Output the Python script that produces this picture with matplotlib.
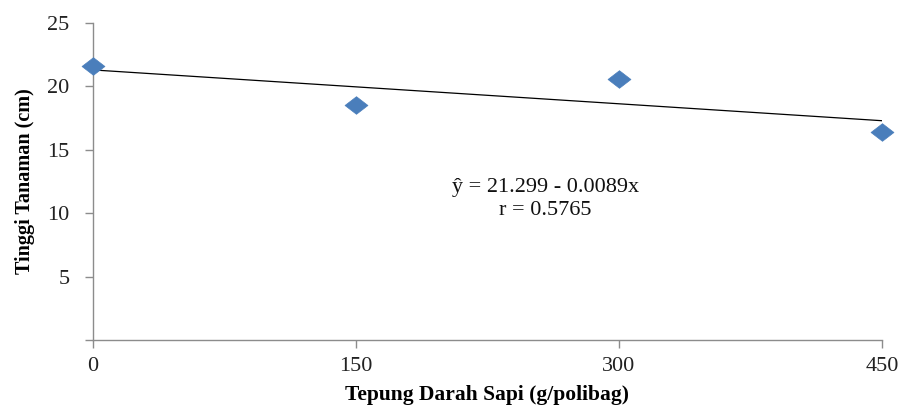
import matplotlib
matplotlib.use("Agg")
import matplotlib.pyplot as plt
import numpy as np
from matplotlib.path import Path

# Data
doses = [0, 150, 300, 450]
heights = [21.63, 18.56, 20.6, 16.4]
intercept = 21.299
slope = -0.0089
xticks = [0, 150, 300, 450]
yticks = [5, 10, 15, 20, 25]

plt.rcParams['font.family'] = ['Liberation Serif', 'DejaVu Serif']

fig = plt.figure(figsize=(9.06, 4.07), dpi=100)
ax = fig.add_axes([0.1026, 0.1646, 0.8709, 0.7789])

wide_diamond = Path([(-1.3, 0), (0, 1), (1.3, 0), (0, -1), (-1.3, 0)],
                    [Path.MOVETO, Path.LINETO, Path.LINETO, Path.LINETO, Path.CLOSEPOLY])

xs = np.array([min(doses), max(doses)])
ax.plot(xs, intercept + slope * xs, color='black', lw=0.9, zorder=2)
ax.plot(doses, heights, linestyle='none', marker=wide_diamond, markersize=16.5,
        color='#4A7EBB', markeredgecolor='#4A7EBB', markeredgewidth=0.5,
        zorder=3, clip_on=False)

ax.set_xlim(0, 450)
ax.set_ylim(0, 25)
ax.set_xticks(xticks)
ax.set_xticklabels([str(v) for v in xticks])
ax.set_yticks([0] + yticks)
ax.set_yticklabels([''] + [str(v) for v in yticks])

for s in ['top', 'right']:
    ax.spines[s].set_visible(False)
for s in ['left', 'bottom']:
    ax.spines[s].set_color('#8c8c8c')
    ax.spines[s].set_linewidth(1.0)
ax.tick_params(axis='both', colors='#8c8c8c', labelcolor='#222222',
               labelsize=16, length=6, width=1.0, direction='out')
ax.tick_params(axis='x', pad=6)
ax.tick_params(axis='y', pad=11)

ax.set_xlabel('Tepung Darah Sapi (g/polibag)', fontsize=15.5, fontweight='bold', labelpad=7)
ax.set_ylabel('Tinggi Tanaman (cm)', fontsize=14.5, fontweight='bold', labelpad=9)

ax.text(0.573, 0.445, 'ŷ = 21.299 - 0.0089x\nr = 0.5765', transform=ax.transAxes,
        ha='center', va='center', fontsize=16, linespacing=1.3, color='#111111')

fig.savefig('out.png', dpi=100)
